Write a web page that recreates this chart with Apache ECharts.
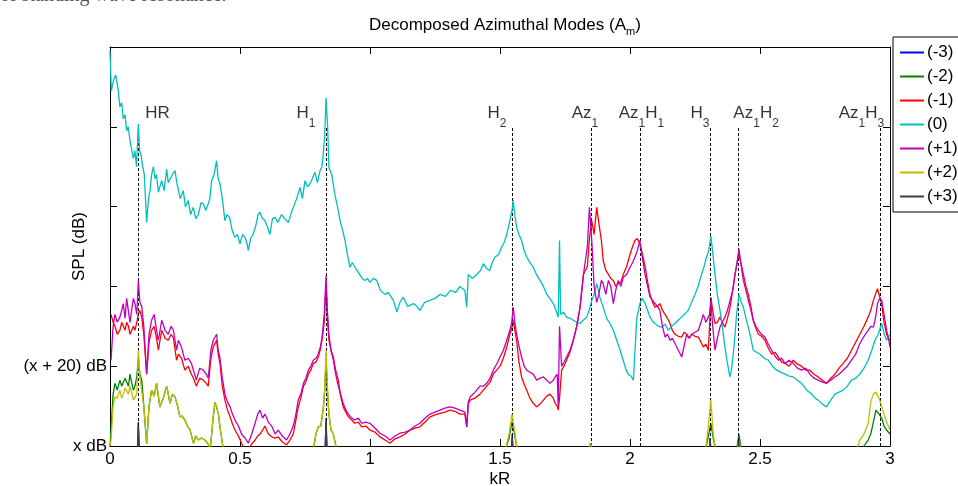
<!DOCTYPE html>
<html>
<head>
<meta charset="utf-8">
<script src="https://cdn.jsdelivr.net/npm/echarts@6/dist/echarts.min.js"></script>
<style>
  html, body { margin: 0; padding: 0; background: #fff; }
  #chart { width: 958px; height: 486px; }
</style>
</head>
<body>
<div id="chart"></div>
<script>
// mode names / colours (matlab colour order)
const modeNames = ['(-3)', '(-2)', '(-1)', '(0)', '(+1)', '(+2)', '(+3)'];
const modeColors = ['#0000ff', '#008000', '#ff0000', '#00bfbf', '#bf00bf', '#bfbf00', '#404040'];

const xTickLabels = ['0', '0.5', '1', '1.5', '2', '2.5', '3'];
const yTickLabels = ['x dB', '(x + 20) dB', '', '', '', ''];

// resonance markers
const resonanceK = [0.109, 0.831, 1.547, 1.85, 2.038, 2.308, 2.418, 2.962];
const resonanceLabelK = [0.183, 0.754, 1.488, 1.827, 2.044, 2.269, 2.485, 2.89];
const resonanceLabels = ['HR', 'H{s|1}', 'H{s|2}', 'Az{s|1}', 'Az{s|1}H{s|1}', 'H{s|3}', 'Az{s|1}H{s|2}', 'Az{s|1}H{s|3}'];

// mode (0)
const zeroK = [
  0.000, 0.005, 0.015, 0.022, 0.032, 0.038, 0.045, 0.051, 0.058, 0.064,
  0.070, 0.077, 0.083, 0.090, 0.096, 0.102, 0.109, 0.114, 0.119, 0.126,
  0.132, 0.141, 0.148, 0.154, 0.160, 0.167, 0.173, 0.179, 0.186, 0.192,
  0.199, 0.208, 0.218, 0.224, 0.231, 0.240, 0.250, 0.257, 0.263, 0.270,
  0.282, 0.290, 0.301, 0.310, 0.320, 0.330, 0.340, 0.350, 0.359, 0.368,
  0.378, 0.384, 0.391, 0.400, 0.410, 0.416, 0.423, 0.432, 0.442, 0.450,
  0.460, 0.470, 0.480, 0.490, 0.500, 0.510, 0.519, 0.526, 0.532, 0.541,
  0.550, 0.560, 0.570, 0.577, 0.586, 0.596, 0.605, 0.615, 0.625, 0.635,
  0.645, 0.660, 0.672, 0.686, 0.695, 0.705, 0.718, 0.731, 0.740, 0.750,
  0.760, 0.769, 0.778, 0.788, 0.798, 0.808, 0.815, 0.820, 0.826, 0.831,
  0.837, 0.842, 0.848, 0.853, 0.860, 0.865, 0.875, 0.885, 0.895, 0.904,
  0.913, 0.923, 0.932, 0.942, 0.950, 0.960, 0.970, 0.980, 0.990, 1.000,
  1.013, 1.026, 1.040, 1.058, 1.070, 1.090, 1.103, 1.115, 1.128, 1.145,
  1.167, 1.180, 1.192, 1.210, 1.230, 1.250, 1.270, 1.290, 1.310, 1.330,
  1.346, 1.365, 1.372, 1.378, 1.395, 1.410, 1.425, 1.436, 1.448, 1.460,
  1.470, 1.480, 1.495, 1.506, 1.516, 1.526, 1.538, 1.546, 1.551, 1.557,
  1.564, 1.573, 1.583, 1.593, 1.603, 1.615, 1.628, 1.640, 1.654, 1.667,
  1.680, 1.692, 1.705, 1.715, 1.724, 1.729, 1.733, 1.745, 1.756, 1.770,
  1.782, 1.795, 1.808, 1.820, 1.833, 1.843, 1.853, 1.862, 1.872, 1.885,
  1.897, 1.910, 1.923, 1.936, 1.949, 1.962, 1.974, 1.985, 1.994, 2.004,
  2.013, 2.026, 2.038, 2.048, 2.058, 2.068, 2.077, 2.090, 2.096, 2.110,
  2.122, 2.135, 2.147, 2.160, 2.173, 2.185, 2.198, 2.210, 2.224, 2.237,
  2.250, 2.262, 2.275, 2.285, 2.294, 2.303, 2.311, 2.319, 2.327, 2.336,
  2.346, 2.355, 2.365, 2.374, 2.384, 2.390, 2.397, 2.404, 2.410, 2.419,
  2.428, 2.436, 2.446, 2.455, 2.465, 2.474, 2.487, 2.500, 2.516, 2.532,
  2.548, 2.564, 2.580, 2.596, 2.612, 2.628, 2.644, 2.660, 2.680, 2.699,
  2.712, 2.724, 2.740, 2.756, 2.772, 2.788, 2.804, 2.820, 2.836, 2.852,
  2.868, 2.884, 2.900, 2.916, 2.930, 2.942, 2.955, 2.968, 2.978, 2.987,
  3.000
];
const zeroMode = [
  99, 89, 92, 93, 89, 85, 86, 82, 83, 79,
  80, 76.5, 77, 72, 74, 70, 80.7, 74, 73, 70,
  68, 56, 62, 64, 68, 70, 67, 68, 63.6, 65,
  66.5, 64, 69.4, 66, 66.5, 68, 69, 66, 66.5, 62,
  64, 60, 61.5, 58, 59.8, 57, 58, 61, 60.7, 59,
  60.7, 62, 66.5, 68, 71.5, 67, 65.7, 62, 56.5, 58,
  57.3, 54, 52.3, 53, 50.7, 53, 52.3, 51, 49, 52,
  53, 55, 58, 58.6, 57, 56.5, 55, 53, 57, 57.3,
  56, 58, 57, 56, 58, 59.8, 62, 64.8, 62, 66.5,
  65, 65.7, 67, 68.6, 66, 69, 70, 73, 78, 87.3,
  80, 69.8, 70, 68, 65, 63, 60, 56.5, 54, 51.5,
  48, 44.8, 46, 44.8, 44, 43, 42, 41.5, 42, 41,
  42, 41.5, 39, 38, 38.5, 36.5, 33.6, 36, 37.3, 35,
  35.7, 35, 34, 36, 36.5, 37, 38, 37.5, 39, 38.5,
  40, 39, 34.8, 43, 42, 43, 44, 45.7, 44.5, 44,
  46, 47.3, 48, 49.8, 51, 53, 56.5, 59, 61.5, 58,
  54.8, 53, 51.5, 49, 47.3, 46, 44.8, 43, 41.5, 40,
  38, 37, 35.7, 34, 32.3, 51.5, 33, 33.5, 32.3, 32,
  31.5, 31, 30.7, 31.5, 32.3, 34, 36.5, 38, 40.7, 37,
  34.8, 32, 30.7, 29, 26.5, 24, 21.5, 19, 18, 17.5,
  16.5, 32, 35.7, 37, 35.7, 34, 32.3, 31, 30.7, 30,
  29.8, 30.5, 29, 30, 30.7, 31.5, 32.3, 33, 34, 36,
  38, 40, 43, 45, 47.3, 49, 52.7, 48, 43, 38,
  34, 30, 24.8, 21, 17.3, 19, 23, 28, 33, 38,
  36, 34.8, 32, 29.8, 27, 24, 23.5, 23, 22, 21.5,
  20, 19, 18.5, 18, 17.5, 17.3, 16.5, 15.7, 14, 13,
  12, 11.5, 10.5, 9.8, 11.5, 13, 13.5, 14, 15, 16.5,
  17, 18, 19.5, 21.5, 24, 26.5, 28, 30.7, 28, 26.5,
  28
];

// modes (-1) and (+1)
const pairK = [
  0.004, 0.012, 0.019, 0.028, 0.038, 0.045, 0.051, 0.058, 0.064, 0.071,
  0.077, 0.083, 0.090, 0.096, 0.103, 0.109, 0.115, 0.122, 0.130, 0.141,
  0.150, 0.160, 0.170, 0.179, 0.186, 0.199, 0.212, 0.224, 0.235, 0.244,
  0.256, 0.263, 0.275, 0.288, 0.301, 0.313, 0.321, 0.332, 0.345, 0.359,
  0.370, 0.378, 0.388, 0.397, 0.410, 0.416, 0.423, 0.432, 0.442, 0.452,
  0.462, 0.471, 0.481, 0.494, 0.506, 0.519, 0.532, 0.545, 0.558, 0.568,
  0.577, 0.587, 0.596, 0.609, 0.622, 0.635, 0.647, 0.663, 0.679, 0.692,
  0.705, 0.715, 0.724, 0.734, 0.744, 0.753, 0.763, 0.772, 0.782, 0.792,
  0.801, 0.810, 0.817, 0.824, 0.831, 0.836, 0.842, 0.850, 0.859, 0.868,
  0.878, 0.887, 0.897, 0.907, 0.917, 0.930, 0.942, 0.955, 0.968, 0.984,
  1.000, 1.019, 1.038, 1.058, 1.077, 1.096, 1.115, 1.135, 1.154, 1.173,
  1.192, 1.212, 1.231, 1.250, 1.269, 1.288, 1.308, 1.327, 1.346, 1.365,
  1.372, 1.378, 1.385, 1.404, 1.423, 1.436, 1.449, 1.462, 1.474, 1.487,
  1.500, 1.513, 1.526, 1.538, 1.545, 1.551, 1.557, 1.564, 1.573, 1.583,
  1.593, 1.603, 1.615, 1.628, 1.641, 1.654, 1.667, 1.680, 1.692, 1.705,
  1.712, 1.720, 1.724, 1.729, 1.737, 1.746, 1.756, 1.769, 1.782, 1.795,
  1.808, 1.821, 1.836, 1.844, 1.853, 1.862, 1.872, 1.880, 1.890, 1.897,
  1.907, 1.917, 1.926, 1.936, 1.945, 1.955, 1.965, 1.974, 1.987, 2.000,
  2.010, 2.019, 2.028, 2.038, 2.048, 2.058, 2.068, 2.077, 2.087, 2.096,
  2.106, 2.115, 2.125, 2.135, 2.144, 2.154, 2.163, 2.173, 2.186, 2.199,
  2.208, 2.218, 2.228, 2.237, 2.250, 2.263, 2.273, 2.282, 2.292, 2.301,
  2.306, 2.311, 2.318, 2.327, 2.336, 2.346, 2.355, 2.365, 2.375, 2.385,
  2.395, 2.404, 2.412, 2.419, 2.428, 2.436, 2.446, 2.455, 2.465, 2.474,
  2.484, 2.494, 2.506, 2.519, 2.532, 2.545, 2.558, 2.571, 2.583, 2.596,
  2.612, 2.628, 2.644, 2.660, 2.676, 2.692, 2.708, 2.724, 2.740, 2.756,
  2.772, 2.788, 2.804, 2.820, 2.836, 2.852, 2.868, 2.884, 2.900, 2.916,
  2.926, 2.936, 2.944, 2.952, 2.960, 2.968, 2.977, 2.987, 2.994, 3.000
];
const plusOne = [
  21.5, 30, 33, 31, 32.3, 34, 35.7, 32, 37, 36.5,
  31, 34, 37, 35.7, 33, 41.5, 36, 35, 30, 18,
  28, 31.5, 33, 29, 26.5, 31.5, 29, 28, 30, 29,
  24, 26.5, 24.8, 21.5, 22, 20.7, 19, 16.5, 19.5, 19,
  18, 17, 24, 26.5, 28, 24, 22, 17, 13, 11,
  9.8, 8, 6.5, 5, 3, 2, 0.7, 3, 5.7, 8,
  9, 7, 8, 6, 5, 3, 4, 2.5, 1.5, 3,
  5, 8, 11.5, 13, 15.7, 17, 19, 20, 21.5, 22,
  23, 25, 28, 33, 42.7, 34, 28, 24, 21.5, 18,
  15, 13, 10.7, 9, 8, 7, 6.5, 7, 5.7, 6,
  5.7, 4.5, 3.2, 2.5, 1.5, 2.5, 3.2, 3.5, 4, 5,
  5.7, 7, 8, 8.5, 9, 9.5, 9.8, 9.5, 9, 8.5,
  4.8, 11, 12.3, 13.5, 15, 15, 15.7, 17, 19, 20.5,
  22.3, 24, 26.5, 29, 31, 34.8, 31, 28, 25, 22.3,
  20, 19, 18.5, 18, 16.5, 17, 17.3, 16.5, 15.7, 16.5,
  17.3, 18, 10, 30, 20, 21, 22.3, 24, 26.5, 30,
  34.8, 43, 50, 59.8, 51.5, 40, 36, 38, 41.5, 40.7,
  38, 41.5, 40, 35.7, 39, 41.5, 40, 42.3, 43, 44.8,
  46, 47.3, 49, 51.5, 47, 43, 40, 37.3, 36.5, 35.7,
  35, 34, 30, 27.3, 28, 26.5, 27, 25.7, 24, 22.3,
  25, 28, 27, 28, 28.5, 29, 31, 33, 31, 32.3,
  33, 36.5, 30, 24, 27, 29.8, 31, 32.3, 34, 36.5,
  39, 43, 46, 49.4, 45, 41.5, 39, 36.5, 34, 31.5,
  30, 29, 28, 27.3, 25.5, 24, 22.5, 21.5, 22, 20.7,
  21.5, 20.7, 19.5, 19, 19.5, 18, 17, 16.5, 16, 15.7,
  16.5, 17.3, 18, 19, 20, 21.5, 23, 25.7, 27.5, 29,
  30, 29.8, 32, 35.7, 37, 36.5, 33, 29, 27, 24.8
];
const minusOne = [
  33, 31, 30, 28, 29, 31, 30.7, 29, 31, 30,
  28, 28, 30, 29, 31, 33, 34, 32.3, 28, 18,
  26, 29, 30, 27, 24, 29, 27, 26.5, 28, 27,
  21.5, 23, 22, 19, 20, 18, 17, 15, 17, 16.5,
  15.7, 15, 22, 24.8, 26.5, 23, 20.7, 15, 11.5, 9,
  7.3, 5.5, 4, 2.5, 0.7, -1, -1, 0.5, 1.5, 2.5,
  3, 4, 5, 3, 2.3, 2, 2.3, 1, 0.3, 1.5,
  3, 6.5, 9.8, 12, 15, 16, 18, 19, 20.7, 21,
  22.3, 24.5, 27.3, 31, 40.7, 32, 26.5, 24, 22.3, 19,
  16.5, 12.5, 9.8, 8.5, 7.3, 6.5, 5.7, 6, 4.8, 5,
  4, 3.5, 2.3, 1.5, 0.7, 1.8, 2.3, 3, 4, 4.5,
  4.8, 6, 7.3, 7.8, 8.2, 8.5, 9, 8.7, 8, 8,
  4.8, 10.5, 11.5, 12, 13, 14, 15, 16, 18, 19,
  20, 22, 24.8, 28, 29.5, 31.5, 29, 26.5, 21, 17.3,
  15.5, 14, 12, 10.7, 9.8, 10.5, 11.5, 12.5, 13, 12,
  10.7, 10, 9, 12, 19, 20, 21.5, 23.5, 26.5, 30,
  34.8, 43, 45, 52, 56.5, 53, 59.8, 56, 51.5, 46.5,
  44, 43, 42, 41.5, 40, 40.7, 41, 43, 45, 48,
  50, 51.5, 52, 50.7, 48, 45, 41, 38, 36, 34.8,
  35, 35.7, 34, 33, 32, 30.7, 29, 28, 27.5, 27.3,
  28.5, 28, 27, 28, 27.5, 27.3, 26, 24.8, 25.5, 24,
  30, 37.3, 34, 30.7, 31, 32.3, 31, 29.8, 32, 34.8,
  39, 43, 46, 48, 45.5, 43, 40, 38, 35, 31.5,
  29.5, 28, 27.5, 26.5, 24.5, 23, 23.5, 22.3, 21, 20.7,
  20, 21.5, 20.5, 20, 19, 19, 18, 17.3, 16.5, 15.7,
  17, 18, 19.5, 20.7, 22, 24, 26, 28, 30, 32.3,
  34, 36.5, 38, 39.4, 37.5, 35.7, 31, 28, 27, 26.5
];

// modes (-2) and (+2)
const lowK = [
  0.000, 0.004, 0.012, 0.019, 0.028, 0.038, 0.045, 0.051, 0.058, 0.064,
  0.071, 0.077, 0.083, 0.090, 0.096, 0.103, 0.109, 0.115, 0.122, 0.130,
  0.141, 0.150, 0.160, 0.170, 0.179, 0.192, 0.205, 0.218, 0.231, 0.240,
  0.250, 0.260, 0.269, 0.278, 0.288, 0.298, 0.308, 0.321, 0.330, 0.340,
  0.352, 0.365, 0.378, 0.385, 0.391, 0.397, 0.404, 0.410, 0.417, 0.423,
  0.436, 0.782, 0.792, 0.801, 0.811, 0.821, 0.826, 0.831, 0.836, 0.842,
  0.850, 0.859, 0.872, 1.520, 1.535, 1.546, 1.556, 1.566, 1.840, 1.848,
  1.856, 2.290, 2.300, 2.311, 2.320, 2.330, 2.410, 2.419, 2.428, 2.870,
  2.884, 2.900, 2.916, 2.926, 2.936, 2.946, 2.958, 2.968, 2.977, 2.987,
  3.000
];
const minusTwo = [
  0, 4, 13, 15.7, 14, 16.5, 15, 14.8, 17, 16.5,
  15, 18, 16, 14, 15, 17.3, 22.3, 18, 16.5, 10,
  0.5, 10, 14, 12.5, 15.7, 9.8, 12, 15, 10.7, 13,
  12.3, 10, 7.3, 7.5, 6.5, 5, 4, 0.7, 2.5, 1.5,
  2, 1.5, 0.5, -1, 3, 7.3, 11, 9.8, 8, 4.8,
  -1, -1, 3, 4.8, 5, 9.8, 14, 22, 14, 8,
  4, 3, -1, -1, 2, 6, 3, -1, -1, 0.7,
  -1, -1, 2, 5.7, 2, -1, -1, 3, -1, -1,
  -1, 0, 1.5, 3, 6, 9, 8, 7, 5, 4,
  3
];
const plusTwo = [
  0, 1.5, 10, 12.3, 12, 14, 12, 13, 14.5, 14,
  13, 15, 13.5, 11.5, 12, 13, 24, 17, 16.5, 10,
  0.5, 10, 14, 12.5, 15.7, 9.8, 12, 15, 10.7, 13,
  12.3, 10, 7.3, 7.5, 6.5, 5, 4, 0.7, 2.5, 1.5,
  2, 1.5, 0.5, -1, 3, 7.3, 11, 9.8, 8, 4.8,
  -1, -1, 3, 4.8, 5, 9.8, 15, 24, 15, 8,
  4, 3, -1, -1, 3, 8, 4, -1, -1, 0.7,
  -1, -1, 4, 11.5, 3, -1, -1, 1, -1, -1,
  1.5, 3, 5.7, 11, 13, 13.5, 12, 10, 8, 6,
  4
];

// modes (-3) and (+3): mostly below the x dB floor
const edgeK = [0, 0.105, 0.109, 0.113, 0.827, 0.831, 0.835, 1.543, 1.547, 1.551, 2.304, 2.308, 2.312, 2.414, 2.418, 2.422, 3.0];
const minusThree = [-2, -2, 6, -2, -2, 7, -2, -2, 3, -2, -2, 2, -2, -2, 2, -2, -2];
const plusThree = [-2, -2, 5, -2, -2, 6, -2, -2, 2, -2, -2, 2, -2, -2, 1, -2, -2];

const zip = (ks, vs) => ks.map((k, i) => [k, vs[i]]);

const FONT = '"Liberation Sans", Arial, Helvetica, sans-serif';

const modeData = [
  zip(edgeK, minusThree),
  zip(lowK, minusTwo),
  zip(pairK, minusOne),
  zip(zeroK, zeroMode),
  zip(pairK, plusOne),
  zip(lowK, plusTwo),
  zip(edgeK, plusThree),
];

const chart = echarts.init(document.getElementById('chart'));

const subRich = {
  n: { fontSize: 17, fontFamily: FONT, color: '#000' },
  s: { fontSize: 12, fontFamily: FONT, color: '#000', padding: [20, 0, 0, 0] },
};

const series = modeNames.map((name, i) => ({
  name: name,
  type: 'line',
  data: modeData[i],
  symbol: 'none',
  clip: true,
  lineStyle: { color: modeColors[i], width: 1.3 },
  itemStyle: { color: modeColors[i] },
  z: 2 + i,
}));

// resonance labels and dashed markers
series.push({
  name: 'resonances',
  type: 'scatter',
  data: resonanceLabelK.map((k) => [k, 83.3]),
  symbolSize: 1,
  itemStyle: { color: 'rgba(0,0,0,0)' },
  silent: true,
  z: 20,
  label: {
    show: true,
    position: 'inside',
    color: '#000',
    formatter: (p) => resonanceLabels[p.dataIndex].replace(/^([^{]*)/, '{n|$1}').replace(/\}([A-Za-z]+)\{/g, '}{n|$1}{'),
    rich: subRich,
  },
  markLine: {
    silent: true,
    symbol: ['none', 'none'],
    label: { show: false },
    lineStyle: { color: '#000', type: [3, 2], width: 1 },
    data: resonanceK.map((k) => [{ coord: [k, 0] }, { coord: [k, 80] }]),
  },
});

const frameAxisLine = { show: true, onZero: false, lineStyle: { color: '#000', width: 1 } };
const frameTick = { show: true, inside: true, length: 7, lineStyle: { color: '#000' } };

const option = {
  animation: false,
  backgroundColor: '#fff',
  title: {
    text: '{n|Decomposed Azimuthal Modes (A}{s|m}{n|)}',
    left: 364,
    top: 8,
    textStyle: {
      fontWeight: 'normal',
      rich: {
        n: { fontSize: 17, fontFamily: FONT, color: '#000', fontWeight: 'normal' },
        s: { fontSize: 11, fontFamily: FONT, color: '#000', fontWeight: 'normal', padding: [13, 0, 0, 0] },
      },
    },
  },
  graphic: [
    {
      type: 'text',
      left: 0,
      top: -14,
      style: { text: 'of standing wave resonance.', font: '20px "Liberation Serif", serif', fill: '#555' },
    },
  ],
  legend: {
    data: modeNames,
    orient: 'vertical',
    left: 893,
    top: 37,
    padding: [7, 8, 7, 6],
    itemWidth: 24,
    itemHeight: 14,
    itemGap: 7,
    borderColor: '#000',
    borderWidth: 1,
    backgroundColor: '#fff',
    itemStyle: { opacity: 0 },
    textStyle: { fontSize: 17, fontFamily: FONT, color: '#000', padding: [0, 0, 0, -2] },
  },
  grid: { left: 110, right: 68, top: 47, bottom: 40, containLabel: false, outerBoundsMode: 'none' },
  xAxis: [
    {
      type: 'value',
      min: 0,
      max: 3,
      interval: 0.5,
      name: 'kR',
      nameLocation: 'middle',
      nameGap: 25,
      nameMoveOverlap: false,
      nameTextStyle: { fontSize: 17, fontFamily: FONT, color: '#000' },
      axisLine: frameAxisLine,
      axisTick: frameTick,
      axisLabel: {
        margin: 5,
        fontSize: 17,
        fontFamily: FONT,
        color: '#000',
        formatter: (v) => xTickLabels[Math.round(v / 0.5)],
      },
      splitLine: { show: false },
    },
    {
      type: 'value',
      position: 'top',
      min: 0,
      max: 3,
      interval: 0.5,
      axisLine: frameAxisLine,
      axisTick: frameTick,
      axisLabel: { show: false },
      splitLine: { show: false },
    },
  ],
  yAxis: [
    {
      type: 'value',
      min: 0,
      max: 100,
      interval: 20,
      name: 'SPL (dB)',
      nameLocation: 'middle',
      nameRotate: 90,
      nameGap: 22,
      nameMoveOverlap: false,
      nameTextStyle: { fontSize: 17, fontFamily: FONT, color: '#000' },
      axisLine: frameAxisLine,
      axisTick: frameTick,
      axisLabel: {
        margin: 3,
        fontSize: 17,
        fontFamily: FONT,
        color: '#000',
        formatter: (v) => yTickLabels[Math.round(v / 20)],
      },
      splitLine: { show: false },
    },
    {
      type: 'value',
      position: 'right',
      min: 0,
      max: 100,
      interval: 20,
      axisLine: frameAxisLine,
      axisTick: frameTick,
      axisLabel: { show: false },
      splitLine: { show: false },
    },
  ],
  series: series,
};

chart.setOption(option);
</script>
</body>
</html>
